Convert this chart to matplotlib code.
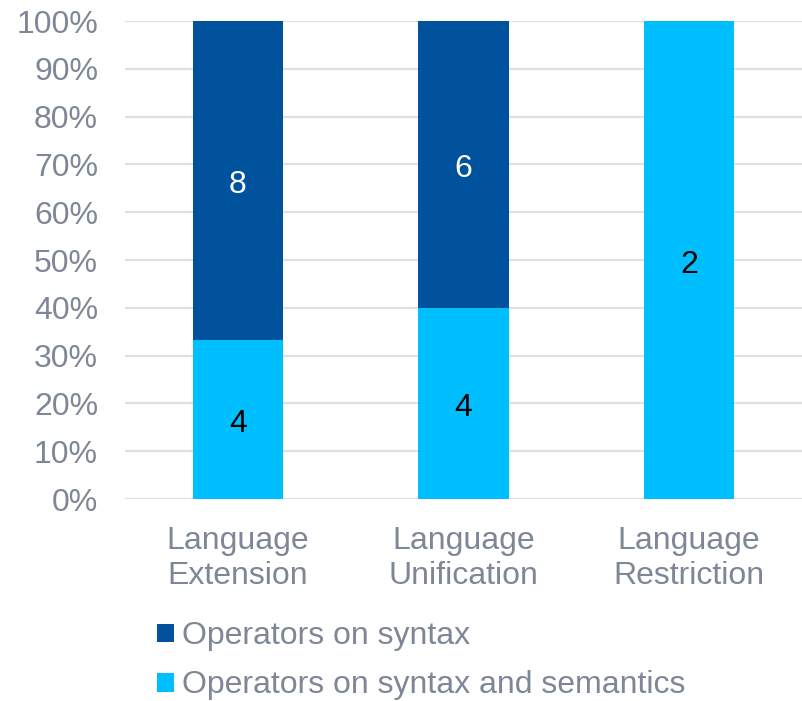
import matplotlib
matplotlib.use("Agg")
import matplotlib.pyplot as plt
import numpy as np
from matplotlib.patches import Patch

categories = ["Language\nExtension", "Language\nUnification", "Language\nRestriction"]
syntax_counts = [8, 6, 0]
sem_counts = [4, 4, 2]
series_names = ["Operators on syntax", "Operators on syntax and semantics"]
yticks = [0, 10, 20, 30, 40, 50, 60, 70, 80, 90, 100]

dark = "#00529C"
light = "#00BFFF"
txt = "#7D8797"
grid = "#DDE0E5"

plt.rcParams['font.family'] = ['Liberation Sans', 'DejaVu Sans']

fig = plt.figure(figsize=(8.02, 7.01), dpi=100)
ax = fig.add_axes([0.156, 0.288, 0.844, 0.682])

syn = np.array(syntax_counts, float)
sem = np.array(sem_counts, float)
tot = syn + sem
sem_pct = sem / tot * 100
syn_pct = syn / tot * 100
x = np.arange(len(categories))
w = 0.4

ax.bar(x, sem_pct, w, color=light, zorder=3)
ax.bar(x, syn_pct, w, bottom=sem_pct, color=dark, zorder=3)

for i in range(len(x)):
    if sem[i] > 0:
        ax.annotate(f"{int(sem[i])}", (x[i], sem_pct[i] / 2), xytext=(0, -3.5),
                    textcoords='offset points', ha='center', va='center',
                    color='black', fontsize=23, zorder=4)
    if syn[i] > 0:
        ax.annotate(f"{int(syn[i])}", (x[i], sem_pct[i] + syn_pct[i] / 2), xytext=(0, -3.5),
                    textcoords='offset points', ha='center', va='center',
                    color='white', fontsize=23, zorder=4)

ax.set_xlim(-0.5, 2.5)
ax.set_ylim(0, 100)
ax.set_yticks(yticks)
ax.set_yticklabels([f"{t}%" for t in yticks])
ax.set_xticks(x)
ax.set_xticklabels(categories, linespacing=1.2)
ax.tick_params(axis='both', length=0, labelsize=23, colors=txt)
ax.tick_params(axis='y', pad=19.5)
ax.tick_params(axis='x', pad=19.5)
ax.yaxis.grid(True, color=grid, linewidth=1.6, zorder=0)
for s in ax.spines.values():
    s.set_visible(False)

handles = [Patch(facecolor=dark), Patch(facecolor=light)]
leg = fig.legend(handles, series_names, loc='upper left', bbox_to_anchor=(0.180, 0.132),
                 frameon=False, fontsize=23, handlelength=0.53, handleheight=0.53,
                 handletextpad=0.25, labelspacing=0.6, borderaxespad=0)
for t in leg.get_texts():
    t.set_color(txt)

fig.savefig("out.png", dpi=100)
